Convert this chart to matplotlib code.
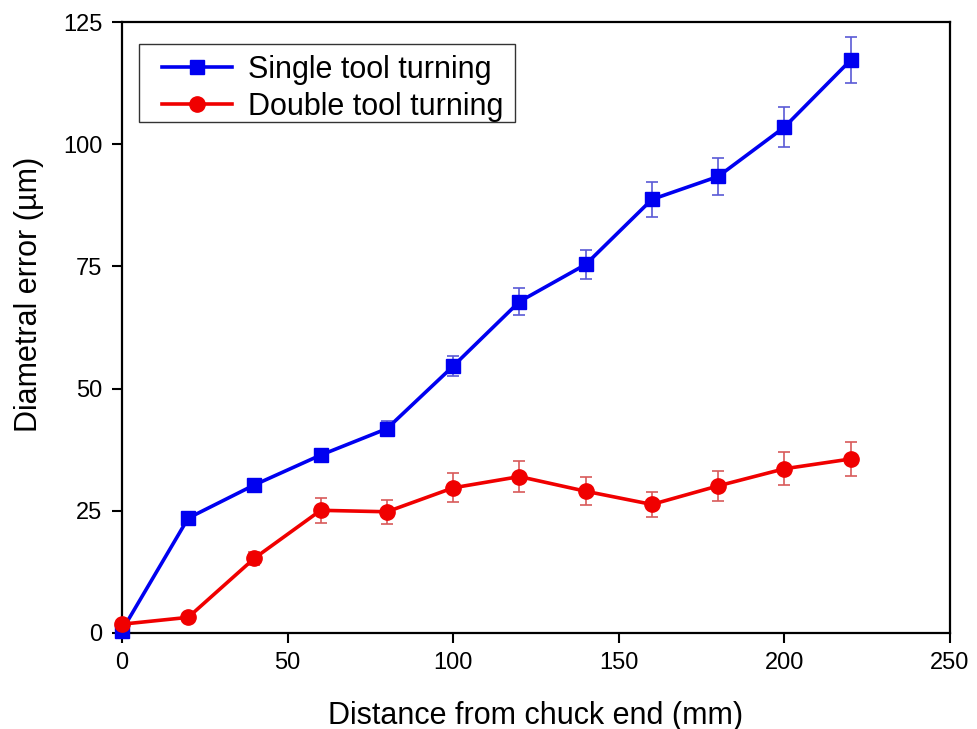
import matplotlib
matplotlib.use("Agg")
import matplotlib.pyplot as plt
from matplotlib.patches import Rectangle

# distances along the bar (mm)
dist = [0, 20, 40, 60, 80, 100, 120, 140, 160, 180, 200, 220]

single = [0.5, 23.5, 30.3, 36.4, 41.8, 54.6, 67.8, 75.4, 88.7, 93.4, 103.5, 117.2]
single_err = [0.5, 1.0, 1.0, 1.0, 1.5, 2.0, 2.7, 3.0, 3.5, 3.7, 4.1, 4.7]

double = [1.8, 3.2, 15.3, 25.1, 24.8, 29.7, 32.0, 29.0, 26.3, 30.1, 33.6, 35.6]
double_err = [0.5, 0.5, 1.3, 2.6, 2.5, 3.0, 3.2, 2.9, 2.6, 3.0, 3.4, 3.5]

plt.rcParams["font.family"] = ["Liberation Sans", "DejaVu Sans"]

fig = plt.figure(figsize=(9.78, 7.29), dpi=100)
ax = fig.add_axes([0.1247, 0.1317, 0.9714 - 0.1247, 0.9698 - 0.1317])

eb1 = ax.errorbar(dist, single, yerr=single_err, color="#0000f0", ecolor="#5a5ad6",
                  elinewidth=1.2, capsize=4.5, capthick=1.2, lw=2.6, marker="s",
                  markersize=10, clip_on=False, zorder=3)
eb2 = ax.errorbar(dist, double, yerr=double_err, color="#f00000", ecolor="#d85a5a",
                  elinewidth=1.2, capsize=4.5, capthick=1.2, lw=2.6, marker="o",
                  markersize=11, clip_on=False, zorder=4)

ax.set_xlim(0, 250)
ax.set_ylim(0, 125)
ax.set_xticks(range(0, 251, 50))
ax.set_yticks(range(0, 126, 25))
ax.tick_params(direction="out", length=7, width=1.5, labelsize=17, pad=7)
for s in ax.spines.values():
    s.set_linewidth(1.6)

ax.set_xlabel("Distance from chuck end (mm)", fontsize=22, labelpad=19)
ax.set_ylabel("Diametral error (\u00b5m)", fontsize=22)
ax.yaxis.set_label_coords(-0.094, 0.555)

# legend frame drawn separately so its padding can match
ax.add_patch(Rectangle((0.0205, 0.8363), 0.4541, 0.1277, transform=ax.transAxes,
                       fill=False, edgecolor="#333333", lw=1.0, zorder=5))
leg = ax.legend([eb1[0], eb2[0]], ["Single tool turning", "Double tool turning"],
                loc="upper left", bbox_to_anchor=(40 / 828, 1 - 33 / 611),
                borderaxespad=0, borderpad=0, fontsize=22, frameon=False,
                handlelength=2.3, handletextpad=0.52, labelspacing=0.22)

fig.savefig("out.png", dpi=100, facecolor="white")
